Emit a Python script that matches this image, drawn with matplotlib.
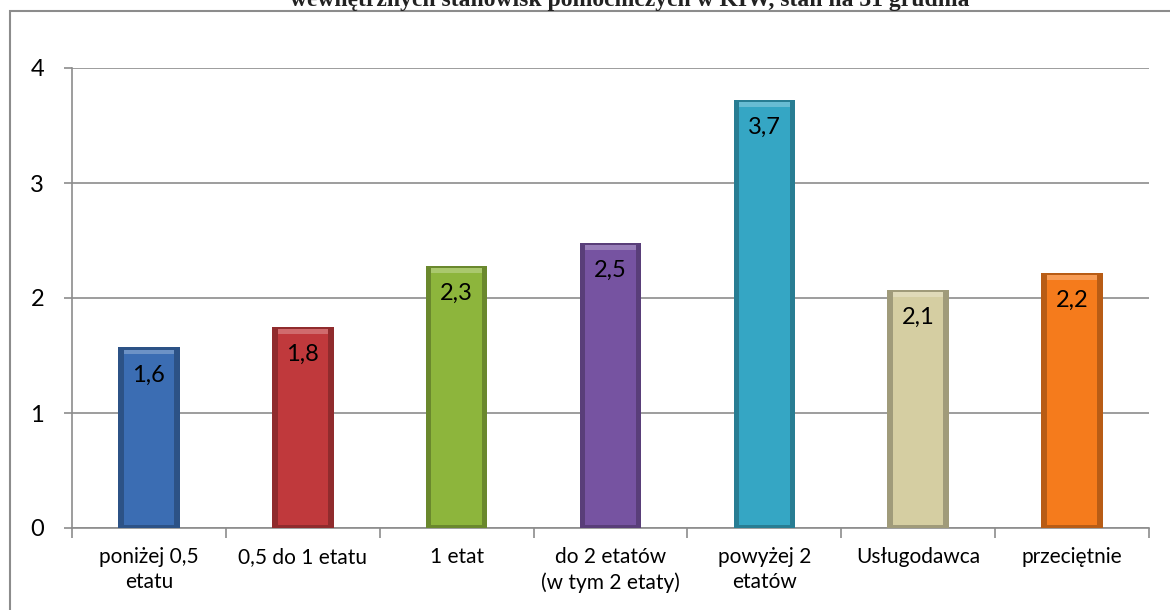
import matplotlib.pyplot as plt
import matplotlib.colors as mcolors
from matplotlib.patches import Rectangle
import numpy as np

plt.rcParams['font.family'] = ['Lato', 'DejaVu Sans']

categories = ['poniżej 0,5\netatu', '0,5 do 1 etatu', '1 etat', 'do 2 etatów\n(w tym 2 etaty)',
              'powyżej 2\netatów', 'Usługodawca', 'przeciętnie']
values = [1.57, 1.75, 2.28, 2.48, 3.72, 2.07, 2.22]
labels = ['1,6', '1,8', '2,3', '2,5', '3,7', '2,1', '2,2']
colors = ['#3b6db3', '#c0393c', '#8db53c', '#7653a1', '#35a6c4', '#d5cea2', '#f57b1c']
title = 'wewnętrznych stanowisk pomocniczych w KIW, stan na 31 grudnia'


def shade(c, f):
    r, g, b = mcolors.to_rgb(c)
    if f < 1:
        return (r * f, g * f, b * f)
    return (r + (1 - r) * (f - 1), g + (1 - g) * (f - 1), b + (1 - b) * (f - 1))


fig = plt.figure(figsize=(11.7, 6.1), dpi=100)
fig.patches.append(Rectangle((10 / 1170, -0.05), 1.2, (610 - 11) / 610 + 0.05,
                             transform=fig.transFigure, fill=False, edgecolor='#8c8c8c',
                             linewidth=1.5))
fig.text(0.538, 0.99, title, ha='center', va='baseline', fontsize=17, fontweight='bold',
         family='Liberation Serif', color='#222222')

ax = fig.add_axes([72 / 1170, 82 / 610, 1077 / 1170, 460 / 610])
x = np.arange(len(values))
w = 0.4

ax.bar(x, values, w, color=[shade(c, 0.75) for c in colors], zorder=3)
ax.bar(x, [v - 0.06 for v in values], w * 0.82, bottom=0.03, color=colors, zorder=4)
ax.bar(x, [0.04] * len(values), w * 0.82, bottom=[v - 0.06 for v in values],
       color=[shade(c, 1.25) for c in colors], zorder=4)

for xi, v, lab in zip(x, values, labels):
    ax.text(xi, v - 0.24, lab, ha='center', va='center', fontsize=17, color='black', zorder=5)

ax.set_xlim(-0.5, len(values) - 0.5)
ax.set_ylim(0, 4)
ax.set_yticks([0, 1, 2, 3, 4])
ax.yaxis.grid(True, color='#8c8c8c', linewidth=1.2, zorder=0)
ax.set_axisbelow(True)

ax.set_xticks(x)
ax.set_xticklabels(categories, fontsize=15)
ax.set_xticks(np.arange(len(values) + 1) - 0.5, minor=True)
ax.tick_params(axis='x', which='major', length=0, pad=14)
ax.tick_params(axis='x', which='minor', length=7, color='#8c8c8c', width=1.2)
ax.tick_params(axis='y', length=6, color='#8c8c8c', width=1.2, labelsize=17, pad=14)
for lab in ax.get_xticklabels():
    lab.set_linespacing(1.3)

for s in ['top', 'right']:
    ax.spines[s].set_visible(False)
for s in ['left', 'bottom']:
    ax.spines[s].set_color('#8c8c8c')
    ax.spines[s].set_linewidth(1.2)

fig.savefig('out.png', dpi=100)
